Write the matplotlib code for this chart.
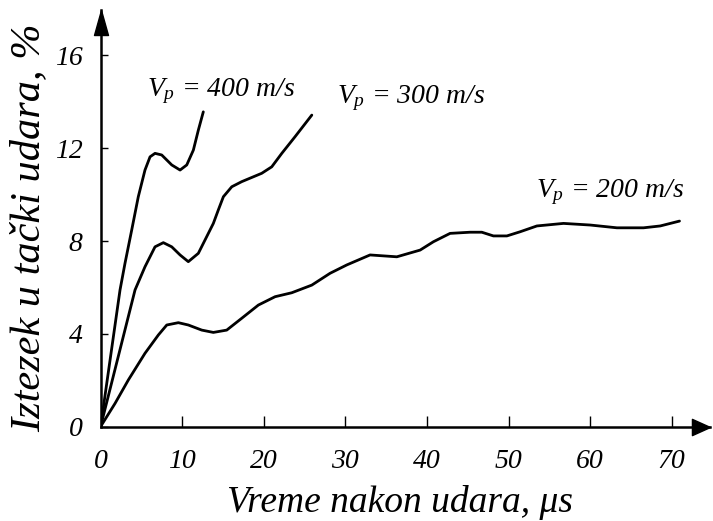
import matplotlib
matplotlib.use("Agg")
import matplotlib.pyplot as plt
from matplotlib.path import Path

plt.rcParams["font.family"] = ["Liberation Serif", "DejaVu Serif"]
plt.rcParams["font.style"] = "italic"
plt.rcParams["mathtext.fontset"] = "custom"
plt.rcParams["mathtext.it"] = "Liberation Serif:italic"
plt.rcParams["mathtext.rm"] = "Liberation Serif:italic"

# Strain at the point of impact vs. time, for three projectile speeds
t_400 = [0, 2.38, 2.99, 3.81, 4.62, 5.44, 6.06, 6.67, 7.49, 8.72, 9.74,
         10.56, 11.37, 11.98, 12.59]
e_400 = [0, 5.89, 7.04, 8.47, 9.91, 11.06, 11.63, 11.78, 11.71, 11.28, 11.06,
         11.28, 11.92, 12.78, 13.57]

t_300 = [0, 4.22, 5.44, 6.67, 7.69, 8.72, 9.74, 10.75, 11.98, 13.82, 14.43,
         15.05, 16.08, 17.30, 19.75, 20.98, 22.21, 23.84, 25.89]
e_300 = [0, 5.89, 6.89, 7.75, 7.93, 7.75, 7.40, 7.11, 7.47, 8.76, 9.34,
         9.91, 10.34, 10.56, 10.92, 11.20, 11.78, 12.50, 13.43]

t_200 = [0, 1.77, 3.40, 5.44, 7.08, 8.11, 9.53, 10.75, 12.40, 13.82, 15.46,
         17.30, 19.34, 21.39, 23.43, 25.89, 28.13, 30.18, 33.03, 36.31,
         39.17, 40.80, 42.84, 45.29, 46.73, 48.15, 49.80, 51.43, 53.48,
         56.74, 60.01, 63.29, 66.55, 68.60, 70.96]
e_200 = [0, 1.0, 2.01, 3.16, 3.95, 4.38, 4.48, 4.38, 4.16, 4.06, 4.16,
         4.67, 5.24, 5.60, 5.77, 6.10, 6.61, 6.97, 7.40, 7.32,
         7.61, 7.97, 8.33, 8.38, 8.38, 8.22, 8.22, 8.40, 8.65,
         8.76, 8.69, 8.57, 8.57, 8.65, 8.86]

x_ticks = [0, 10, 20, 30, 40, 50, 60, 70]
y_ticks = [0, 4, 8, 12, 16]

curve_labels = [r"$V_p$ = 400 m/s", r"$V_p$ = 300 m/s", r"$V_p$ = 200 m/s"]
label_pos = [(5.69, 14.25), (28.95, 13.94), (53.39, 9.91)]

fig = plt.figure(figsize=(7.13, 5.21), dpi=100)
ax = fig.add_axes([0.1411, 0.1812, 0.8547, 0.7996])

for t, e in [(t_400, e_400), (t_300, e_300), (t_200, e_200)]:
    ax.plot(t, e, color="black", lw=2.0, solid_joinstyle="round",
            solid_capstyle="round")

for txt, (x, y) in zip(curve_labels, label_pos):
    ax.text(x, y, txt, fontsize=20, ha="left", va="baseline")

ax.set_xlim(0, 74.7)
ax.set_ylim(0, 17.96)
ax.set_xticks(x_ticks)
ax.set_yticks(y_ticks)
ax.set_xticklabels([str(v) for v in x_ticks])
ax.set_yticklabels([str(v) for v in y_ticks])

for side in ("top", "right"):
    ax.spines[side].set_visible(False)
for side in ("left", "bottom"):
    ax.spines[side].set_linewidth(1.8)
    ax.spines[side].set_color("black")

ax.tick_params(axis="x", direction="in", length=8, width=1.0, pad=16,
               labelsize=20)
ax.tick_params(axis="y", direction="in", length=5, width=1.0, pad=13,
               labelsize=20)

# arrow heads at the ends of both axes
up = Path([(0, 0), (-0.28, -1), (0.28, -1), (0, 0)],
          [Path.MOVETO, Path.LINETO, Path.LINETO, Path.CLOSEPOLY])
right = Path([(0, 0), (-1, 0.45), (-1, -0.45), (0, 0)],
             [Path.MOVETO, Path.LINETO, Path.LINETO, Path.CLOSEPOLY])
ax.plot(0, 1, marker=up, markersize=36, color="black",
        transform=ax.get_xaxis_transform(), clip_on=False)
ax.plot(1, 0, marker=right, markersize=26, color="black",
        transform=ax.get_yaxis_transform(), clip_on=False)

fig.text(0.561, 0.0173, "Vreme nakon udara, \u03bcs", fontsize=27,
         ha="center", va="baseline")
fig.text(0.040, 0.562, "Iztezek u ta\u010dki udara, %", fontsize=30.5,
         ha="center", va="center", rotation=90)

fig.savefig("out.png", dpi=100)
